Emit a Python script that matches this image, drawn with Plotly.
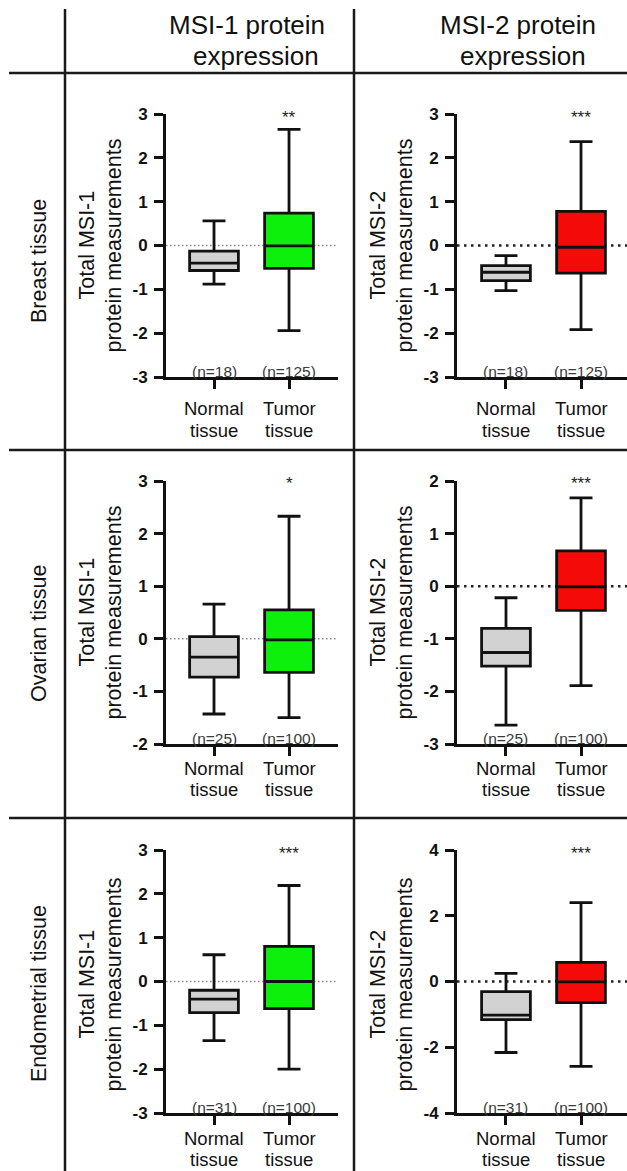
import plotly.graph_objects as go

# ---------------- data ----------------
categories = ["Normal tissue", "Tumor tissue"]
cat_line1 = ["Normal", "Tumor"]
cat_line2 = ["tissue", "tissue"]
row_labels = ["Breast tissue", "Ovarian tissue", "Endometrial tissue"]
col_line1 = ["MSI-1 protein", "MSI-2 protein"]
col_line2 = ["expression", "expression"]
ytitle_line1 = ["Total MSI-1", "Total MSI-2"]
ytitle_line2 = ["protein measurements", "protein measurements"]

# box stats: [lower whisker, q1, median, q3, upper whisker]
breast_msi1_normal = [-0.88, -0.57, -0.40, -0.13, 0.56]
breast_msi1_tumor = [-1.94, -0.52, -0.01, 0.74, 2.65]
breast_msi2_normal = [-1.03, -0.80, -0.61, -0.46, -0.23]
breast_msi2_tumor = [-1.92, -0.63, -0.04, 0.78, 2.37]
ovarian_msi1_normal = [-1.43, -0.73, -0.35, 0.04, 0.66]
ovarian_msi1_tumor = [-1.50, -0.64, -0.02, 0.55, 2.33]
ovarian_msi2_normal = [-2.64, -1.52, -1.26, -0.80, -0.22]
ovarian_msi2_tumor = [-1.89, -0.46, -0.01, 0.67, 1.68]
endometrial_msi1_normal = [-1.35, -0.71, -0.40, -0.20, 0.61]
endometrial_msi1_tumor = [-2.00, -0.62, 0.00, 0.80, 2.19]
endometrial_msi2_normal = [-2.16, -1.16, -1.02, -0.31, 0.25]
endometrial_msi2_tumor = [-2.58, -0.64, -0.01, 0.58, 2.40]

breast_n = [18, 125]
ovarian_n = [25, 100]
endometrial_n = [31, 100]

# significance of tumor vs normal: [MSI-1 panel, MSI-2 panel]
breast_sig = ["**", "***"]
ovarian_sig = ["*", "***"]
endometrial_sig = ["***", "***"]

breast_msi1_ticks = [-3, -2, -1, 0, 1, 2, 3]
breast_msi2_ticks = [-3, -2, -1, 0, 1, 2, 3]
ovarian_msi1_ticks = [-2, -1, 0, 1, 2, 3]
ovarian_msi2_ticks = [-3, -2, -1, 0, 1, 2]
endometrial_msi1_ticks = [-3, -2, -1, 0, 1, 2, 3]
endometrial_msi2_ticks = [-4, -2, 0, 2, 4]

# ---------------- layout geometry (pixels) ----------------
W, H = 627, 1171
def fx(p):
    return p / W
def fy(p):
    return 1 - p / H

FONT = "Liberation Sans, Arial, sans-serif"
row_top = [114, 481, 850]
row_bot = [377, 744, 1113]
row_mid = [261, 634, 994]
col_dom = [(166, 338), (457, 627)]
col_rng = [(-0.64, 1.653), (-0.653, 1.613)]
label_off = [(32, 53), (24, 45), (25, 46)]

panels = [
    (0, 0, breast_msi1_normal, breast_msi1_tumor, breast_n, breast_sig, breast_msi1_ticks),
    (0, 1, breast_msi2_normal, breast_msi2_tumor, breast_n, breast_sig, breast_msi2_ticks),
    (1, 0, ovarian_msi1_normal, ovarian_msi1_tumor, ovarian_n, ovarian_sig, ovarian_msi1_ticks),
    (1, 1, ovarian_msi2_normal, ovarian_msi2_tumor, ovarian_n, ovarian_sig, ovarian_msi2_ticks),
    (2, 0, endometrial_msi1_normal, endometrial_msi1_tumor, endometrial_n, endometrial_sig, endometrial_msi1_ticks),
    (2, 1, endometrial_msi2_normal, endometrial_msi2_tumor, endometrial_n, endometrial_sig, endometrial_msi2_ticks),
]

fill_normal = "#d2d2d2"
fill_tumor = ["#0cf00c", "#f50a0a"]
INK = "#111111"

fig = go.Figure()
annotations = []
shapes = []
layout = {}

for i, (r, c, normal, tumor, ns, sig, ticks) in enumerate(panels):
    k = i + 1
    xa = "x" if k == 1 else f"x{k}"
    ya = "y" if k == 1 else f"y{k}"
    xkey = "xaxis" if k == 1 else f"xaxis{k}"
    ykey = "yaxis" if k == 1 else f"yaxis{k}"
    for j, stats in enumerate([normal, tumor]):
        fig.add_trace(go.Box(
            x=[j], lowerfence=[stats[0]], q1=[stats[1]], median=[stats[2]],
            q3=[stats[3]], upperfence=[stats[4]],
            name=categories[j], width=0.65, whiskerwidth=0.47,
            fillcolor=fill_normal if j == 0 else fill_tumor[c],
            line=dict(color=INK, width=2.8),
            boxpoints=False, showlegend=False, xaxis=xa, yaxis=ya,
        ))
    ymin, ymax = ticks[0], ticks[-1]
    layout[xkey] = dict(
        domain=[fx(col_dom[c][0]), fx(col_dom[c][1])], range=list(col_rng[c]),
        anchor=ya, showline=True, linecolor=INK, linewidth=2.8,
        ticks="outside", ticklen=9, tickwidth=2.8, tickcolor=INK,
        tickvals=[0, 1], showticklabels=False, showgrid=False, zeroline=False,
        fixedrange=True, automargin=False,
    )
    layout[ykey] = dict(
        domain=[fy(row_bot[r]), fy(row_top[r])], range=[ymin, ymax],
        anchor=xa, showline=True, linecolor=INK, linewidth=2.8,
        ticks="outside", ticklen=9, tickwidth=2.8, tickcolor=INK,
        tickvals=ticks, ticktext=[str(t) for t in ticks],
        tickfont=dict(family=FONT, size=17, color=INK, weight="bold"),
        ticklabelstandoff=3, automargin=False,
        showgrid=False, zeroline=False, fixedrange=True,
    )
    # zero reference line
    if c == 0:
        zl = dict(color="#8a8a8a", width=1.4, dash="1.5px,2.5px")
    else:
        zl = dict(color="#222222", width=2.6, dash="2.5px,4.5px")
    shapes.append(dict(type="line", xref=f"{xa} domain", yref=ya, x0=0, x1=1,
                       y0=0, y1=0, line=zl, layer="below"))
    # category labels, n labels
    for j in range(2):
        annotations.append(dict(x=j, xref=xa, y=fy(row_bot[r] + label_off[r][0]), yref="paper",
                                text=cat_line1[j], showarrow=False, yanchor="middle",
                                font=dict(family=FONT, size=18.5, color=INK)))
        annotations.append(dict(x=j, xref=xa, y=fy(row_bot[r] + label_off[r][1]), yref="paper",
                                text=cat_line2[j], showarrow=False, yanchor="middle",
                                font=dict(family=FONT, size=18.5, color=INK)))
        annotations.append(dict(x=j, xref=xa, y=fy(row_bot[r] - 6), yref="paper",
                                text=f"(n={ns[j]})", showarrow=False, yanchor="middle",
                                font=dict(family=FONT, size=15.5, color="#3a3a3a")))
    # significance stars above tumor box
    annotations.append(dict(x=1, xref=xa, y=fy(row_top[r] + 3), yref="paper",
                            text=sig[c], showarrow=False, yanchor="middle",
                            font=dict(family=FONT, size=17, color="#222222")))
    # y-axis titles
    ymid = (row_top[r] + row_bot[r]) / 2 + (3 if r == 2 else 0)
    annotations.append(dict(x=fx(col_dom[c][0] - 80), y=fy(ymid), xref="paper", yref="paper",
                            text=ytitle_line1[c], textangle=-90, showarrow=False,
                            xanchor="center", yanchor="middle",
                            font=dict(family=FONT, size=21.5, color=INK)))
    annotations.append(dict(x=fx(col_dom[c][0] - 53), y=fy(ymid), xref="paper", yref="paper",
                            text=ytitle_line2[c], textangle=-90, showarrow=False,
                            xanchor="center", yanchor="middle",
                            font=dict(family=FONT, size=21.5, color=INK)))

# column headers
hdr_x1 = [247, 518]
hdr_x2 = [256, 523]
for c in range(2):
    annotations.append(dict(x=fx(hdr_x1[c]), y=fy(25), xref="paper", yref="paper",
                            text=col_line1[c], showarrow=False, xanchor="center", yanchor="middle",
                            font=dict(family=FONT, size=26, color=INK)))
    annotations.append(dict(x=fx(hdr_x2[c]), y=fy(56), xref="paper", yref="paper",
                            text=col_line2[c], showarrow=False, xanchor="center", yanchor="middle",
                            font=dict(family=FONT, size=26, color=INK)))

# row labels
for r in range(3):
    annotations.append(dict(x=fx(39), y=fy(row_mid[r]), xref="paper", yref="paper",
                            text=row_labels[r], textangle=-90, showarrow=False,
                            xanchor="center", yanchor="middle",
                            font=dict(family=FONT, size=21.5, color=INK)))

# table grid lines
grid = dict(color="#1a1a1a", width=2.5)
for xv in [65, 354]:
    shapes.append(dict(type="line", xref="paper", yref="paper", x0=fx(xv), x1=fx(xv),
                       y0=fy(9), y1=0, line=grid))
for yv in [73, 450, 818]:
    shapes.append(dict(type="line", xref="paper", yref="paper", x0=fx(9), x1=1,
                       y0=fy(yv), y1=fy(yv), line=grid))

fig.update_layout(
    width=W, height=H, autosize=False,
    margin=dict(l=0, r=0, t=0, b=0, pad=0, autoexpand=False),
    paper_bgcolor="white", plot_bgcolor="rgba(0,0,0,0)",
    annotations=annotations, shapes=shapes, showlegend=False,
    **layout,
)

fig.write_html(
    "out.html",
    config={"displayModeBar": False},
    post_script="document.body.style.margin='0';document.body.style.padding='0';"
                "document.documentElement.style.overflow='hidden';",
)
